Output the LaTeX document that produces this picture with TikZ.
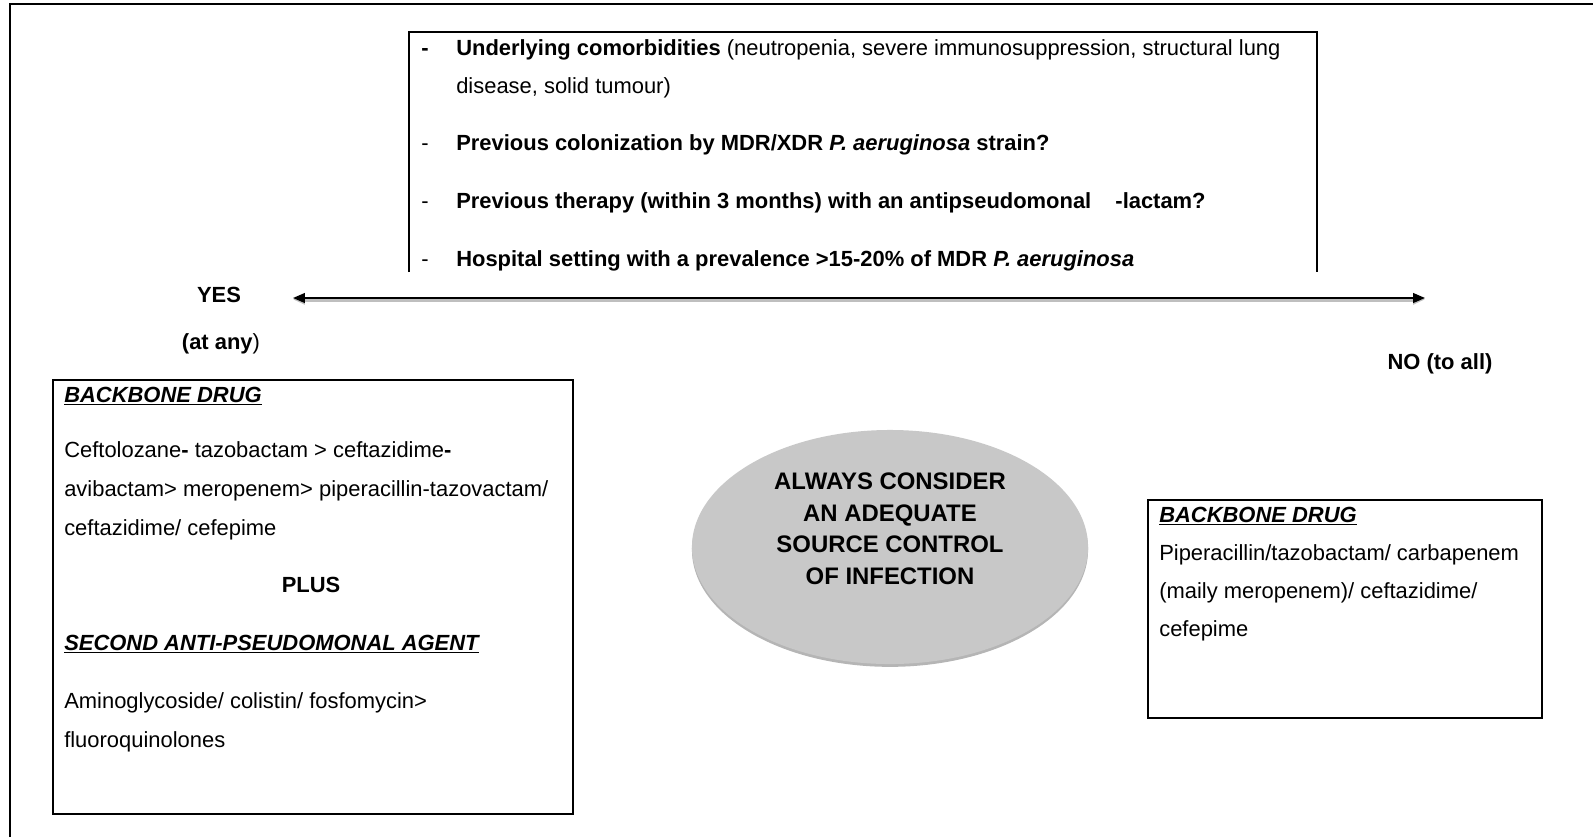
\documentclass[tikz,border=0pt]{standalone}
\usepackage{fontspec}
\setmainfont{Liberation Sans}
\usetikzlibrary{arrows.meta,positioning,shapes.geometric,shadows}
\definecolor{ovalgray}{RGB}{200,200,200}
\definecolor{rimgray}{RGB}{150,150,150}
\newlength{\dashw}
\setlength{\dashw}{0.875cm}

\begin{document}
\begin{tikzpicture}[
  x=0.025cm, y=-0.025cm,
  every node/.style={inner sep=0pt, font=\fontsize{15.6}{27}\selectfont},
  txt/.style={anchor=base west, align=left},
  hd/.style={anchor=base west, font=\fontsize{15.6}{27}\selectfont\bfseries\itshape},
  box/.style={draw, line width=1.4pt},
  frm/.style={line width=2.1pt},
  oval/.style={ellipse, fill=ovalgray, minimum width=9.9cm, minimum height=5.85cm,
    drop shadow={shadow xshift=0pt, shadow yshift=-2pt, fill=rimgray, opacity=0.7}},
  arr/.style={{Triangle[length=8.5pt,width=7pt]}-{Triangle[length=8.5pt,width=7pt]}, line width=1.1pt,
    preaction={draw=gray!50, line width=3.4pt, transform canvas={yshift=-1pt}}}
]
\useasboundingbox (0,0) rectangle (1593,837);
\draw[frm] (10,837) -- (10,4) -- (1593,4);

% risk factors, open at the bottom
\coordinate (rbl) at (409,272);
\coordinate (rtl) at (409,32);
\coordinate (rtr) at (1317,32);
\coordinate (rbr) at (1317,272);
\draw[line width=1.4pt] (rbl) -- (rtl) -- (rtr) -- (rbr);

\node[txt] (comorb) at (421,93) {\makebox[\dashw][l]{\textbf{-}}\textbf{Underlying comorbidities} (neutropenia, severe immunosuppression, structural lung\\
  \hspace*{\dashw}disease, solid tumour)};
\node[txt] (colon) at (421,150) {\makebox[\dashw][l]{-}\textbf{Previous colonization by MDR/XDR \textit{P. aeruginosa} strain?}};
\node[txt] (prevtx) at (421,208) {\makebox[\dashw][l]{-}\textbf{Previous therapy (within 3 months) with an antipseudomonal\hspace{1.1em}-lactam?}};
\node[txt] (hosp) at (421,266) {\makebox[\dashw][l]{-}\textbf{Hospital setting with a prevalence >15-20\% of MDR \textit{P. aeruginosa}}};

% yes / no
\coordinate (yestip) at (293,298);
\coordinate (notip) at (1425,298);
\draw[arr] (yestip) -- (notip);
\node[anchor=base, font=\fontsize{15.6}{27}\selectfont\bfseries] (yes) at (219,302) {YES};
\node[anchor=base] (atany) at (221,349) {\textbf{(at any})};
\node[anchor=base, font=\fontsize{15.6}{27}\selectfont\bfseries] (no) at (1440,369) {NO (to all)};

% yes branch
\node[box, anchor=north west, minimum width=13cm, minimum height=10.85cm] (yesbox) at (52,379) {};
\node[hd] (yeshd) at (64,402) {\underline{BACKBONE DRUG}};
\node[txt, font=\fontsize{15.6}{27.7}\selectfont] (yesdrug) at (64,535) {Ceftolozane\textbf{-} tazobactam > ceftazidime\textbf{-}\\
  avibactam> meropenem> piperacillin-tazovactam/\\
  ceftazidime/ cefepime};
\node[anchor=base, font=\fontsize{15.6}{27}\selectfont\bfseries] (plus) at (311,592) {PLUS};
\node[hd] (secondhd) at (64,650) {\underline{SECOND ANTI-PSEUDOMONAL AGENT}};
\node[txt, font=\fontsize{15.6}{27.7}\selectfont] (second) at (64,747) {Aminoglycoside/ colistin/ fosfomycin>\\
  fluoroquinolones};

% source control
\node[oval] (source) at (890,547) {};
\node[align=center, font=\fontsize{17}{22.4}\selectfont\bfseries] (sourcetxt) at (890,529)
  {ALWAYS CONSIDER\\AN ADEQUATE\\SOURCE CONTROL\\OF INFECTION};

% no branch
\node[box, anchor=north west, minimum width=9.85cm, minimum height=5.45cm] (nobox) at (1147,499) {};
\node[hd] (nohd) at (1159,522) {\underline{BACKBONE DRUG}};
\node[txt, font=\fontsize{15.6}{26.7}\selectfont] (nodrug) at (1159,636) {Piperacillin/tazobactam/ carbapenem\\
  (maily meropenem)/ ceftazidime/\\
  cefepime};
\end{tikzpicture}
\end{document}
